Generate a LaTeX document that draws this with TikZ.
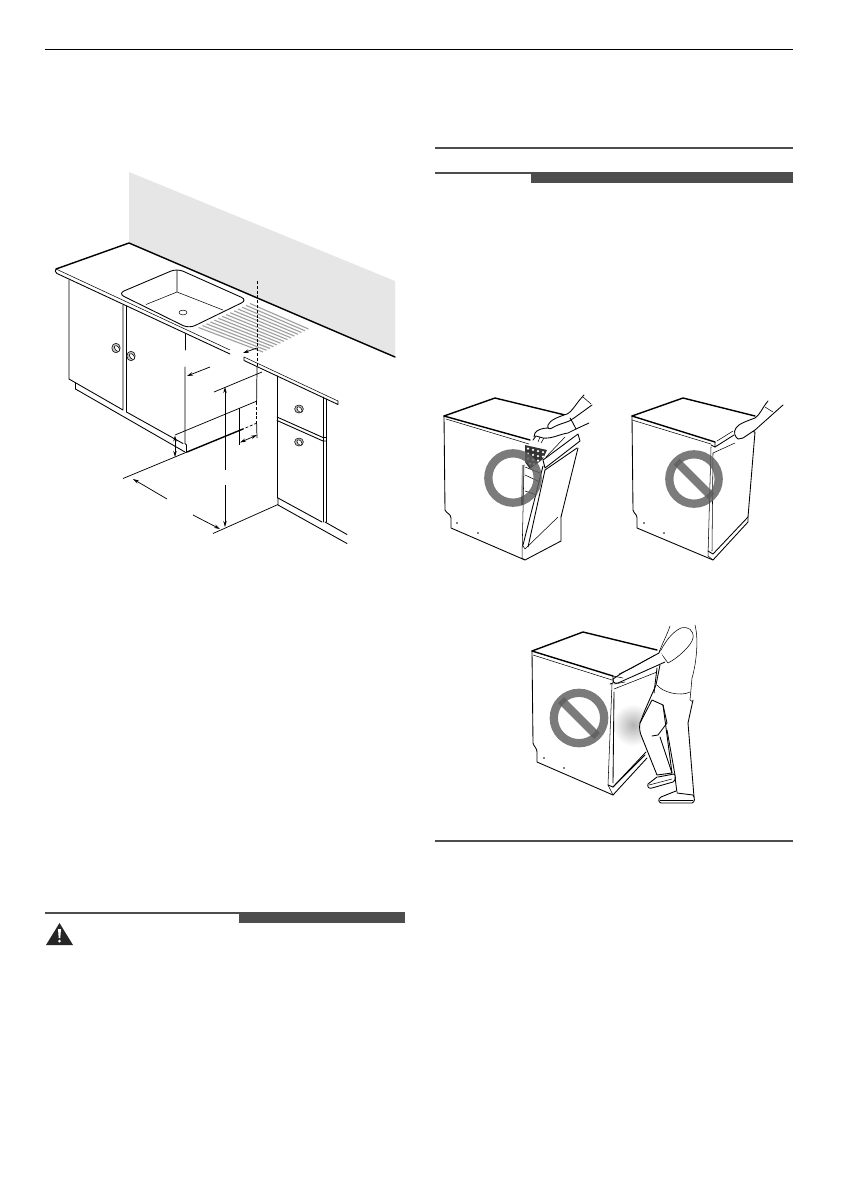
\documentclass[tikz,border=0pt]{standalone}
\usetikzlibrary{arrows.meta,calc}
\definecolor{rulegrey}{HTML}{4D4D4D}
\definecolor{signgrey}{HTML}{5E5E5E}
\definecolor{wallgrey}{HTML}{E6E6E6}
\definecolor{ridgegrey}{HTML}{A0A0A0}
\tikzset{
  ln/.style={line width=.65pt,black,line join=round,line cap=round},
  thk/.style={line width=1.05pt,black,line join=round,line cap=round},
  thn/.style={line width=.4pt,black,line join=round,line cap=round},
  dimln/.style={line width=.55pt,black},
  dimarr/.style={dimln,-{Stealth[length=4.5pt,width=2.6pt]}},
  dimdbl/.style={dimln,{Stealth[length=4.5pt,width=2.6pt]}-{Stealth[length=4.5pt,width=2.6pt]}},
  rulebar/.style={fill=rulegrey,draw=none},
  ringsign/.style={draw=signgrey,line width=6.2pt,opacity=.82},
  barsign/.style={draw=signgrey,line width=6.2pt,opacity=.82},
  knob/.style={thn,fill=black!25},
}
\begin{document}
\begin{tikzpicture}[x=.75pt,y=-.75pt]
\useasboundingbox (0,0) rectangle (840,1190);
\fill[white] (0,0) rectangle (840,1190);
% page rules
\draw[line width=.7pt,black] (45,49.5) -- (793,49.5);
\fill[rulebar] (435,147.2) rectangle (793,149.3);
\fill[rulebar] (435,171.5) rectangle (793,173.6);
\fill[rulebar] (531,172) rectangle (793,183);
\fill[rulebar] (435,840.2) rectangle (793,842.3);
\fill[rulebar] (45,912) rectangle (405,914);
\fill[rulebar] (239,912) rectangle (405,923);
% warning triangle
\fill[black!85,line join=round] (46,945) -- (59.5,923) -- (73,945) -- cycle;
\fill[white] (58,929) -- (61,929) -- (60.3,938) -- (58.7,938) -- cycle;
\fill[white] (59.5,941) circle (1.5);
%% ===== kitchen =====
\fill[wallgrey] (129,172) -- (395,281) -- (395,357) -- (129,243) -- cycle;
\draw[thk] (395,357) -- (129,243) -- (56,269);
\draw[ln] (56,269) .. controls (55,271) and (55,272) .. (57,273.5) -- (230,354);
\draw[thn] (56,269) -- (230,350);
\draw[thn] (244,357) -- (338,401);
\draw[ln] (244,357) -- (244,360.5) -- (338,404.5) -- (338,401);
% sink
\draw[ln,rounded corners=5pt] (118,293.5) -- (177,268.5) -- (247.5,300) -- (189,328.5) -- cycle;
\draw[thn] (177,271) -- (177,292) -- (146,304.5);
\draw[thn] (177,292) -- (223,310);
\draw[thn] (183,312.5) ellipse (4 and 2.4);
% drainer ridges
\coordinate (rsa) at (198.5,327.5);
\coordinate (rsb) at (250,303.5);
\coordinate (rea) at (263,352);
\coordinate (reb) at (308.5,329);
\foreach \i in {0,...,13}{
  \draw[ridgegrey,line width=.85pt] ($(rsa)!\i/13!(rsb)$) -- ($(rea)!\i/13!(reb)$);
}
% left cabinets
\draw[ln] (69,280) -- (69,379) -- (123,410) -- (123,305);
\draw[ln] (126.5,306) -- (126.5,412) -- (183,443.5);
\draw[ln] (75.5,383) -- (75.5,389) -- (185,452);
\draw[ln] (185,334) -- (185,350);
\draw[ln] (185,367) -- (185,443.5) -- (186.5,445) -- (186.5,452);
\draw[knob] (116,348) ellipse (4.2 and 4.8);
\draw[thn,fill=white,rotate around={40:(117,348.5)}] (117,348.5) ellipse (2 and 3.4);
\draw[knob] (131,356) ellipse (4.2 and 4.8);
\draw[thn,fill=white,rotate around={40:(132,356.5)}] (132,356.5) ellipse (2 and 3.4);
% right cabinet
\draw[ln] (277,376) -- (277,498);
\draw[ln] (323,397) -- (323,522);
\draw[thn] (326,399) -- (326,522);
\draw[ln] (277,417) -- (323,437.5) -- (326,437.5);
\draw[ln] (277,420.5) -- (323,441) -- (326,441);
\draw[ln] (278,498) -- (322,522);
\draw[ln] (278,498) -- (278,505) -- (347,543.5);
\draw[ln] (325,522) -- (347,534.5);
\draw[knob] (299,409) ellipse (4.4 and 4);
\draw[thn,fill=white,rotate around={40:(299.5,409.5)}] (299.5,409.5) ellipse (2 and 3.2);
\draw[knob] (299,442) ellipse (4.4 and 4);
\draw[thn,fill=white,rotate around={40:(299.5,442.5)}] (299.5,442.5) ellipse (2 and 3.2);
% dimension lines
\draw[dimln,dashed,dash pattern=on 2.2pt off 1.4pt] (257,281) -- (257,367);
\draw[dimln] (257,367) -- (256.6,402);
\draw[dimln,dashed,dash pattern=on 2.2pt off 1.4pt] (256.6,402) -- (256.6,423);
\draw[dimln] (256.6,423) -- (257,438);
\draw[dimln] (262,372) -- (214,392);
\draw[dimln] (257,401) -- (175,435);
\draw[dimln,dashed,dash pattern=on 2.2pt off 1.4pt] (257,423) -- (243,429);
\draw[thk] (243,429) -- (187,452);
\draw[dimln] (187,452) -- (123,478.5);
\draw[dimdbl] (175,435.5) -- (175,457);
\draw[dimln] (239,408) -- (239,445);
\draw[dimdbl] (240,442.5) -- (257,435);
\draw[dimarr] (210,367) -- (187,376);
\draw[dimarr] (257,348) -- (243,353);
\draw[dimarr] (225,470) -- (225,387);
\draw[dimarr] (225,485) -- (225,527);
\draw[dimarr] (167,499) -- (133,479);
\draw[dimarr] (193,515) -- (220,529);
\draw[dimln] (213,533.5) -- (278,504.5);
%% ===== dishwasher 1 =====
\draw[thk] (444,416) -- (495,398) -- (565,415);
\draw[thk] (444,416) -- (530,440);
\draw[thn] (446,419) -- (529,444);
\draw[ln] (444,416) -- (445,510) .. controls (446,513) and (451,514) .. (451,518) -- (451,528) -- (525,560) -- (561,541) -- (561,517);
\draw[thn] (524,465) -- (522,558) -- (525,560);
\draw[ln] (578,448) -- (561,517);
\draw[thn] (558,517) -- (525,549) -- (522.5,545);
\draw[ln] (523,545) -- (543,466);
\draw[ln] (528,547) -- (545,470);
\draw[ln] (545,470) -- (577,448);
\draw[ln] (543,460) -- (578,434) -- (580,441) -- (545,468) -- (543,460);
\draw[thn] (546,457) -- (565,437);
\draw[thn] (525,467) -- (540,473);
\draw[thn] (525,475) -- (540,482);
\draw[thn] (525,491) -- (537,495);
\fill[black!80] (525,445) -- (547,450) -- (543,459) -- (530,469) -- (525,462) -- cycle;
\foreach \p in {(528,448.5),(533,449.8),(538,451),(543,452.2),(528,453.5),(533,454.8),(538,456),(543,456.5),(528,458.5),(533,459.8),(538,460.5),(530,463.5),(534,464)}{
  \fill[white] \p circle (1.25);
}
% hands, dishwasher 1
\draw[ln,fill=white] (584,395) .. controls (577,402) and (572,412) .. (567,414) .. controls (558,417) and (550,420) .. (548,425) .. controls (547,428) and (549,430) .. (552,428) .. controls (560,423) and (568,423) .. (574,418) -- (592,405);
\draw[thn] (583,397) -- (591,404);
\draw[ln,fill=white] (589,423) -- (576,429) -- (568,433) .. controls (560,434) and (552,439) .. (543,438) -- (536,436) -- (533,440);
\draw[ln] (570,418) .. controls (572,421) and (574,425) .. (576,429);
\draw[ln] (548,428) .. controls (542,428) and (537,430) .. (535,433) -- (534,437);
\draw[thn] (540,437) -- (538,442);
\draw[thn] (544,438) -- (541,443);
\draw[ringsign] (513,478) circle (24.7);
\fill[black!80,opacity=.5] (524,465) -- (523,505) -- (521,505) -- (522,465) -- cycle;
%% ===== dishwasher 2 =====
\draw[thk] (632,416) -- (683,398) -- (755,416);
\draw[thk] (632,416) -- (715,442);
\draw[thn] (632,420) -- (711,444);
\draw[ln] (632,416) -- (633,510) .. controls (634,514) and (637,514) .. (637,518) -- (637,528) -- (713,560) -- (748,522) -- (748,517) -- (755,432) -- (751,431);
\draw[ln] (715,442) -- (715,447) -- (711,445);
\draw[thn] (713,453) -- (735,443);
\draw[ln] (715,447) -- (734,435);
\draw[thn] (717,441) -- (733,431);
\draw[thn] (711,447) -- (708,556) -- (713,560);
\draw[thn] (713,453) -- (712,551);
\draw[ln] (708,551) -- (713,554) -- (748,517);
\draw[ln,fill=white] (768,401) .. controls (762,408) and (760,415) .. (755,418) .. controls (747,421) and (738,424) .. (736,428) .. controls (733,432) and (735,437) .. (738,439) -- (743,438) -- (755,430) -- (783,405);
\draw[thn] (765,407) -- (773,412);
\fill[black] (644,523) circle (.9);
\fill[black] (664,533) circle (.9);
\fill[black] (457,523) circle (.9);
\fill[black] (478,533) circle (.9);
\draw[ringsign] (694,479) circle (24.7);
\draw[barsign] (676.5,461.5) -- (711.5,496.5);
%% ===== dishwasher 3 =====
\shade[inner color=black!30,outer color=white] (633,725) circle (21);
\draw[thk] (532,651) -- (583,632) -- (657,650);
\draw[thk] (532,651) -- (613,676);
\draw[thn] (533,655) -- (612,680);
\draw[ln] (532,651) -- (533,743) .. controls (534,747) and (537,748) .. (537,752) -- (537,762) -- (613,795) -- (647,758);
\draw[ln] (613,676) -- (613,683) -- (610,684);
\draw[thn] (612,684) -- (608,785) -- (613,795);
\draw[ln] (614,692) -- (613,783);
\draw[ln] (608,785) -- (613,787) -- (645,755);
\draw[ln] (613,787) -- (646,752);
\draw[thn] (614,689) -- (657,672);
\draw[ln] (657,668) -- (654,693);
\fill[black] (544,758) circle (.9);
\fill[black] (564,768) circle (.9);
% person, dishwasher 3
\draw[ln,fill=white] (652,700) -- (640,723) .. controls (639,728) and (640,732) .. (641,735) -- (657,775) -- (672,773) -- (663,705) -- cycle;
\draw[thn] (670,626) .. controls (667,635) and (663,642) .. (660,650);
\draw[thn] (695,625) .. controls (699,640) and (696,665) .. (692,678) -- (690,700) -- (693,702);
\draw[thn] (660,652) -- (668,663) .. controls (678,658) and (692,645) .. (693,638) .. controls (694,630) and (688,626) .. (681,628) .. controls (672,632) and (665,642) .. (660,652);
\draw[thn] (657,685) .. controls (662,692) and (680,697) .. (690,692);
\draw[ln] (660,665) -- (656,685) -- (645,710) -- (640,723);
\draw[ln] (693,700) -- (688,723) -- (694,797);
\draw[ln] (663,705) -- (667,723) -- (658,735) -- (652,736);
\draw[ln] (660,737) -- (672,773);
\draw[ln] (667,730) -- (675,775);
\draw[ln,fill=white] (657,777) -- (648,784) .. controls (647,787) and (649,789) .. (652,788) -- (673,782) .. controls (676,780) and (676,776) .. (674,774) -- (658,777);
\draw[thn] (649,785) -- (672,779);
\draw[ln] (675,777) -- (677,793);
\draw[ln,fill=white] (676,791) -- (661,797) .. controls (658,799) and (658,802) .. (661,803) -- (692,803) .. controls (695,802) and (695,798) .. (693,795) -- (677,793);
\draw[thn] (660,800) -- (693,800);
% arm
\draw[ln,fill=white] (665,662) -- (618,683) .. controls (614,684) and (612,681) .. (613,679) -- (622,673) -- (659,653) -- (660,650);
\draw[thn] (655,655) -- (632,668) -- (619,674);
\draw[thn] (613,676) -- (623,678);
\draw[thn] (614,684) -- (625,682);
\draw[ringsign] (579,718) circle (25.2);
\draw[barsign] (561,700) -- (597,736);
\end{tikzpicture}
\end{document}
